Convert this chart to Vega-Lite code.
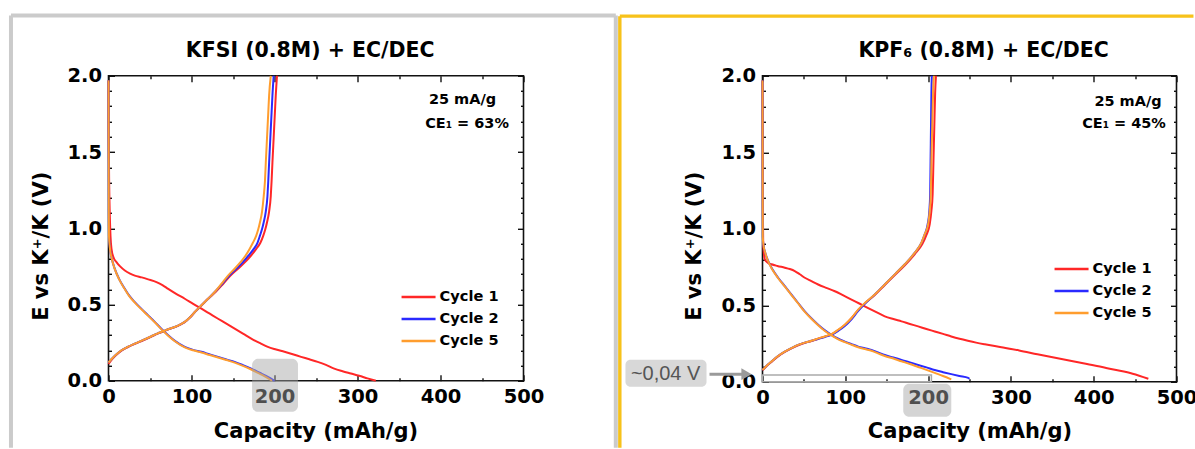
{
  "$schema": "https://vega.github.io/schema/vega-lite/v6.json",
  "padding": {"left": 7.5, "top": 11.8, "right": 0, "bottom": 0},
  "autosize": {"type": "pad"},
  "background": "white",
  "spacing": 239,
  "bounds": "flush",
  "resolve": {"scale": {"color": "independent"}},
  "datasets": {
    "one": [{}],
    "kfsi": [
      {"c":"Cycle 1","b":"d","q":0,"e":1.97},{"c":"Cycle 1","b":"d","q":0.3,"e":1.6},{"c":"Cycle 1","b":"d","q":0.8,"e":1.3},{"c":"Cycle 1","b":"d","q":1.5,"e":1.1},{"c":"Cycle 1","b":"d","q":2.4,"e":0.95},{"c":"Cycle 1","b":"d","q":3.6,"e":0.865},{"c":"Cycle 1","b":"d","q":6,"e":0.81},{"c":"Cycle 1","b":"d","q":9.6,"e":0.778},{"c":"Cycle 1","b":"d","q":14,"e":0.75},{"c":"Cycle 1","b":"d","q":19.7,"e":0.723},{"c":"Cycle 1","b":"d","q":26,"e":0.703},{"c":"Cycle 1","b":"d","q":31.7,"e":0.69},{"c":"Cycle 1","b":"d","q":40,"e":0.678},{"c":"Cycle 1","b":"d","q":47.8,"e":0.665},{"c":"Cycle 1","b":"d","q":57.8,"e":0.647},{"c":"Cycle 1","b":"d","q":65,"e":0.628},{"c":"Cycle 1","b":"d","q":71.9,"e":0.603},{"c":"Cycle 1","b":"d","q":81,"e":0.572},{"c":"Cycle 1","b":"d","q":91.9,"e":0.538},{"c":"Cycle 1","b":"d","q":102,"e":0.505},{"c":"Cycle 1","b":"d","q":112,"e":0.473},{"c":"Cycle 1","b":"d","q":122,"e":0.44},{"c":"Cycle 1","b":"d","q":132,"e":0.407},{"c":"Cycle 1","b":"d","q":142,"e":0.375},{"c":"Cycle 1","b":"d","q":152,"e":0.342},{"c":"Cycle 1","b":"d","q":162,"e":0.31},{"c":"Cycle 1","b":"d","q":172,"e":0.277},{"c":"Cycle 1","b":"d","q":182,"e":0.248},{"c":"Cycle 1","b":"d","q":192,"e":0.222},{"c":"Cycle 1","b":"d","q":202,"e":0.205},{"c":"Cycle 1","b":"d","q":212,"e":0.19},{"c":"Cycle 1","b":"d","q":222,"e":0.174},{"c":"Cycle 1","b":"d","q":232,"e":0.157},{"c":"Cycle 1","b":"d","q":242,"e":0.141},{"c":"Cycle 1","b":"d","q":252,"e":0.124},{"c":"Cycle 1","b":"d","q":262,"e":0.104},{"c":"Cycle 1","b":"d","q":272,"e":0.08},{"c":"Cycle 1","b":"d","q":282,"e":0.063},{"c":"Cycle 1","b":"d","q":292,"e":0.048},{"c":"Cycle 1","b":"d","q":302,"e":0.033},{"c":"Cycle 1","b":"d","q":312,"e":0.016},{"c":"Cycle 1","b":"d","q":322,"e":0.0},
      {"c":"Cycle 1","b":"c","q":0,"e":0.11},{"c":"Cycle 1","b":"c","q":5,"e":0.145},{"c":"Cycle 1","b":"c","q":10,"e":0.172},{"c":"Cycle 1","b":"c","q":15.7,"e":0.198},{"c":"Cycle 1","b":"c","q":23,"e":0.22},{"c":"Cycle 1","b":"c","q":31.7,"e":0.242},{"c":"Cycle 1","b":"c","q":42,"e":0.266},{"c":"Cycle 1","b":"c","q":51.8,"e":0.29},{"c":"Cycle 1","b":"c","q":58,"e":0.306},{"c":"Cycle 1","b":"c","q":65.9,"e":0.323},{"c":"Cycle 1","b":"c","q":72,"e":0.337},{"c":"Cycle 1","b":"c","q":79.9,"e":0.352},{"c":"Cycle 1","b":"c","q":86,"e":0.367},{"c":"Cycle 1","b":"c","q":91.9,"e":0.385},{"c":"Cycle 1","b":"c","q":98,"e":0.414},{"c":"Cycle 1","b":"c","q":104,"e":0.45},{"c":"Cycle 1","b":"c","q":112,"e":0.494},{"c":"Cycle 1","b":"c","q":120,"e":0.538},{"c":"Cycle 1","b":"c","q":129,"e":0.582},{"c":"Cycle 1","b":"c","q":138,"e":0.635},{"c":"Cycle 1","b":"c","q":147,"e":0.69},{"c":"Cycle 1","b":"c","q":156,"e":0.735},{"c":"Cycle 1","b":"c","q":164.5,"e":0.778},{"c":"Cycle 1","b":"c","q":171.5,"e":0.82},{"c":"Cycle 1","b":"c","q":178,"e":0.865},{"c":"Cycle 1","b":"c","q":183,"e":0.905},{"c":"Cycle 1","b":"c","q":186.5,"e":0.952},{"c":"Cycle 1","b":"c","q":189,"e":0.995},{"c":"Cycle 1","b":"c","q":191,"e":1.04},{"c":"Cycle 1","b":"c","q":193.5,"e":1.11},{"c":"Cycle 1","b":"c","q":195.5,"e":1.21},{"c":"Cycle 1","b":"c","q":196.5,"e":1.31},{"c":"Cycle 1","b":"c","q":197.5,"e":1.43},{"c":"Cycle 1","b":"c","q":198.5,"e":1.54},{"c":"Cycle 1","b":"c","q":199.5,"e":1.65},{"c":"Cycle 1","b":"c","q":200.5,"e":1.76},{"c":"Cycle 1","b":"c","q":201.5,"e":1.87},{"c":"Cycle 1","b":"c","q":203,"e":2.0},
      {"c":"Cycle 2","b":"d","q":0,"e":1.97},{"c":"Cycle 2","b":"d","q":0.2,"e":1.6},{"c":"Cycle 2","b":"d","q":0.3,"e":1.3},{"c":"Cycle 2","b":"d","q":0.4,"e":1.1},{"c":"Cycle 2","b":"d","q":0.6,"e":0.95},{"c":"Cycle 2","b":"d","q":1.5,"e":0.88},{"c":"Cycle 2","b":"d","q":4,"e":0.8},{"c":"Cycle 2","b":"d","q":7.6,"e":0.734},{"c":"Cycle 2","b":"d","q":13,"e":0.665},{"c":"Cycle 2","b":"d","q":19.7,"e":0.603},{"c":"Cycle 2","b":"d","q":25,"e":0.558},{"c":"Cycle 2","b":"d","q":31.7,"e":0.516},{"c":"Cycle 2","b":"d","q":40,"e":0.47},{"c":"Cycle 2","b":"d","q":47.8,"e":0.429},{"c":"Cycle 2","b":"d","q":56,"e":0.385},{"c":"Cycle 2","b":"d","q":63.9,"e":0.34},{"c":"Cycle 2","b":"d","q":71.9,"e":0.299},{"c":"Cycle 2","b":"d","q":80,"e":0.262},{"c":"Cycle 2","b":"d","q":91.9,"e":0.222},{"c":"Cycle 2","b":"d","q":102,"e":0.203},{"c":"Cycle 2","b":"d","q":112,"e":0.19},{"c":"Cycle 2","b":"d","q":122,"e":0.173},{"c":"Cycle 2","b":"d","q":132,"e":0.157},{"c":"Cycle 2","b":"d","q":142,"e":0.14},{"c":"Cycle 2","b":"d","q":152,"e":0.124},{"c":"Cycle 2","b":"d","q":162,"e":0.103},{"c":"Cycle 2","b":"d","q":172,"e":0.08},{"c":"Cycle 2","b":"d","q":182,"e":0.053},{"c":"Cycle 2","b":"d","q":192,"e":0.026},{"c":"Cycle 2","b":"d","q":200,"e":0.0},
      {"c":"Cycle 2","b":"c","q":0,"e":0.12},{"c":"Cycle 2","b":"c","q":5,"e":0.15},{"c":"Cycle 2","b":"c","q":10,"e":0.175},{"c":"Cycle 2","b":"c","q":15.7,"e":0.2},{"c":"Cycle 2","b":"c","q":23,"e":0.222},{"c":"Cycle 2","b":"c","q":31.7,"e":0.244},{"c":"Cycle 2","b":"c","q":42,"e":0.268},{"c":"Cycle 2","b":"c","q":51.8,"e":0.292},{"c":"Cycle 2","b":"c","q":58,"e":0.308},{"c":"Cycle 2","b":"c","q":65.9,"e":0.325},{"c":"Cycle 2","b":"c","q":72,"e":0.338},{"c":"Cycle 2","b":"c","q":79.9,"e":0.353},{"c":"Cycle 2","b":"c","q":86,"e":0.368},{"c":"Cycle 2","b":"c","q":91.9,"e":0.386},{"c":"Cycle 2","b":"c","q":98,"e":0.415},{"c":"Cycle 2","b":"c","q":104,"e":0.451},{"c":"Cycle 2","b":"c","q":112,"e":0.495},{"c":"Cycle 2","b":"c","q":120,"e":0.538},{"c":"Cycle 2","b":"c","q":128,"e":0.582},{"c":"Cycle 2","b":"c","q":137,"e":0.635},{"c":"Cycle 2","b":"c","q":145.5,"e":0.69},{"c":"Cycle 2","b":"c","q":154,"e":0.735},{"c":"Cycle 2","b":"c","q":162,"e":0.778},{"c":"Cycle 2","b":"c","q":168.5,"e":0.82},{"c":"Cycle 2","b":"c","q":175,"e":0.865},{"c":"Cycle 2","b":"c","q":179.5,"e":0.905},{"c":"Cycle 2","b":"c","q":182.5,"e":0.952},{"c":"Cycle 2","b":"c","q":185,"e":0.995},{"c":"Cycle 2","b":"c","q":187,"e":1.04},{"c":"Cycle 2","b":"c","q":189.5,"e":1.11},{"c":"Cycle 2","b":"c","q":191.5,"e":1.21},{"c":"Cycle 2","b":"c","q":192.5,"e":1.31},{"c":"Cycle 2","b":"c","q":193.5,"e":1.43},{"c":"Cycle 2","b":"c","q":194.5,"e":1.54},{"c":"Cycle 2","b":"c","q":195.5,"e":1.65},{"c":"Cycle 2","b":"c","q":196.5,"e":1.76},{"c":"Cycle 2","b":"c","q":197.5,"e":1.87},{"c":"Cycle 2","b":"c","q":199,"e":2.0},
      {"c":"Cycle 5","b":"d","q":0,"e":1.97},{"c":"Cycle 5","b":"d","q":0.2,"e":1.6},{"c":"Cycle 5","b":"d","q":0.3,"e":1.3},{"c":"Cycle 5","b":"d","q":0.4,"e":1.1},{"c":"Cycle 5","b":"d","q":0.6,"e":0.95},{"c":"Cycle 5","b":"d","q":1.5,"e":0.88},{"c":"Cycle 5","b":"d","q":4,"e":0.8},{"c":"Cycle 5","b":"d","q":7.6,"e":0.732},{"c":"Cycle 5","b":"d","q":13,"e":0.663},{"c":"Cycle 5","b":"d","q":19.7,"e":0.6},{"c":"Cycle 5","b":"d","q":25,"e":0.555},{"c":"Cycle 5","b":"d","q":31.7,"e":0.513},{"c":"Cycle 5","b":"d","q":40,"e":0.467},{"c":"Cycle 5","b":"d","q":47.8,"e":0.426},{"c":"Cycle 5","b":"d","q":56,"e":0.382},{"c":"Cycle 5","b":"d","q":63.9,"e":0.337},{"c":"Cycle 5","b":"d","q":71.9,"e":0.296},{"c":"Cycle 5","b":"d","q":80,"e":0.259},{"c":"Cycle 5","b":"d","q":91.9,"e":0.219},{"c":"Cycle 5","b":"d","q":102,"e":0.2},{"c":"Cycle 5","b":"d","q":112,"e":0.186},{"c":"Cycle 5","b":"d","q":122,"e":0.169},{"c":"Cycle 5","b":"d","q":132,"e":0.153},{"c":"Cycle 5","b":"d","q":142,"e":0.136},{"c":"Cycle 5","b":"d","q":152,"e":0.119},{"c":"Cycle 5","b":"d","q":162,"e":0.098},{"c":"Cycle 5","b":"d","q":172,"e":0.074},{"c":"Cycle 5","b":"d","q":182,"e":0.047},{"c":"Cycle 5","b":"d","q":192,"e":0.018},{"c":"Cycle 5","b":"d","q":197,"e":0.0},
      {"c":"Cycle 5","b":"c","q":0,"e":0.12},{"c":"Cycle 5","b":"c","q":5,"e":0.15},{"c":"Cycle 5","b":"c","q":10,"e":0.175},{"c":"Cycle 5","b":"c","q":15.7,"e":0.2},{"c":"Cycle 5","b":"c","q":23,"e":0.222},{"c":"Cycle 5","b":"c","q":31.7,"e":0.244},{"c":"Cycle 5","b":"c","q":42,"e":0.268},{"c":"Cycle 5","b":"c","q":51.8,"e":0.292},{"c":"Cycle 5","b":"c","q":58,"e":0.308},{"c":"Cycle 5","b":"c","q":65.9,"e":0.325},{"c":"Cycle 5","b":"c","q":72,"e":0.338},{"c":"Cycle 5","b":"c","q":79.9,"e":0.353},{"c":"Cycle 5","b":"c","q":86,"e":0.368},{"c":"Cycle 5","b":"c","q":91.9,"e":0.386},{"c":"Cycle 5","b":"c","q":98,"e":0.415},{"c":"Cycle 5","b":"c","q":104,"e":0.451},{"c":"Cycle 5","b":"c","q":112,"e":0.495},{"c":"Cycle 5","b":"c","q":120,"e":0.538},{"c":"Cycle 5","b":"c","q":128,"e":0.582},{"c":"Cycle 5","b":"c","q":136,"e":0.635},{"c":"Cycle 5","b":"c","q":144,"e":0.69},{"c":"Cycle 5","b":"c","q":152,"e":0.735},{"c":"Cycle 5","b":"c","q":159,"e":0.778},{"c":"Cycle 5","b":"c","q":165,"e":0.82},{"c":"Cycle 5","b":"c","q":170,"e":0.865},{"c":"Cycle 5","b":"c","q":174,"e":0.905},{"c":"Cycle 5","b":"c","q":178,"e":0.952},{"c":"Cycle 5","b":"c","q":180.5,"e":0.995},{"c":"Cycle 5","b":"c","q":182.5,"e":1.04},{"c":"Cycle 5","b":"c","q":185,"e":1.11},{"c":"Cycle 5","b":"c","q":187,"e":1.21},{"c":"Cycle 5","b":"c","q":188.5,"e":1.31},{"c":"Cycle 5","b":"c","q":189.5,"e":1.43},{"c":"Cycle 5","b":"c","q":190.5,"e":1.54},{"c":"Cycle 5","b":"c","q":191.5,"e":1.65},{"c":"Cycle 5","b":"c","q":192.5,"e":1.76},{"c":"Cycle 5","b":"c","q":193.5,"e":1.87},{"c":"Cycle 5","b":"c","q":195.5,"e":2.0}
    ],
    "kpf6": [
      {"c":"Cycle 1","b":"d","q":0,"e":1.97},{"c":"Cycle 1","b":"d","q":0.3,"e":1.5},{"c":"Cycle 1","b":"d","q":0.5,"e":1.1},{"c":"Cycle 1","b":"d","q":0.8,"e":0.92},{"c":"Cycle 1","b":"d","q":1.5,"e":0.85},{"c":"Cycle 1","b":"d","q":2.8,"e":0.8},{"c":"Cycle 1","b":"d","q":6,"e":0.78},{"c":"Cycle 1","b":"d","q":10.9,"e":0.768},{"c":"Cycle 1","b":"d","q":18,"e":0.757},{"c":"Cycle 1","b":"d","q":26.9,"e":0.746},{"c":"Cycle 1","b":"d","q":33,"e":0.737},{"c":"Cycle 1","b":"d","q":39,"e":0.724},{"c":"Cycle 1","b":"d","q":45,"e":0.703},{"c":"Cycle 1","b":"d","q":51.1,"e":0.68},{"c":"Cycle 1","b":"d","q":59,"e":0.658},{"c":"Cycle 1","b":"d","q":67.2,"e":0.636},{"c":"Cycle 1","b":"d","q":77,"e":0.614},{"c":"Cycle 1","b":"d","q":87.4,"e":0.592},{"c":"Cycle 1","b":"d","q":97,"e":0.566},{"c":"Cycle 1","b":"d","q":107.5,"e":0.537},{"c":"Cycle 1","b":"d","q":117.5,"e":0.51},{"c":"Cycle 1","b":"d","q":127.6,"e":0.482},{"c":"Cycle 1","b":"d","q":137.5,"e":0.455},{"c":"Cycle 1","b":"d","q":147.7,"e":0.428},{"c":"Cycle 1","b":"d","q":158,"e":0.41},{"c":"Cycle 1","b":"d","q":167.9,"e":0.395},{"c":"Cycle 1","b":"d","q":178,"e":0.378},{"c":"Cycle 1","b":"d","q":188,"e":0.362},{"c":"Cycle 1","b":"d","q":198,"e":0.345},{"c":"Cycle 1","b":"d","q":208,"e":0.329},{"c":"Cycle 1","b":"d","q":218,"e":0.313},{"c":"Cycle 1","b":"d","q":228,"e":0.296},{"c":"Cycle 1","b":"d","q":238,"e":0.281},{"c":"Cycle 1","b":"d","q":248,"e":0.268},{"c":"Cycle 1","b":"d","q":258,"e":0.256},{"c":"Cycle 1","b":"d","q":268.5,"e":0.245},{"c":"Cycle 1","b":"d","q":288.6,"e":0.226},{"c":"Cycle 1","b":"d","q":310,"e":0.205},{"c":"Cycle 1","b":"d","q":332,"e":0.18},{"c":"Cycle 1","b":"d","q":355,"e":0.155},{"c":"Cycle 1","b":"d","q":378,"e":0.131},{"c":"Cycle 1","b":"d","q":401,"e":0.107},{"c":"Cycle 1","b":"d","q":424,"e":0.08},{"c":"Cycle 1","b":"d","q":447,"e":0.053},{"c":"Cycle 1","b":"d","q":466,"e":0.02},
      {"c":"Cycle 1","b":"c","q":0,"e":0.075},{"c":"Cycle 1","b":"c","q":5,"e":0.103},{"c":"Cycle 1","b":"c","q":10.9,"e":0.13},{"c":"Cycle 1","b":"c","q":18,"e":0.163},{"c":"Cycle 1","b":"c","q":26.9,"e":0.195},{"c":"Cycle 1","b":"c","q":35,"e":0.218},{"c":"Cycle 1","b":"c","q":43.1,"e":0.239},{"c":"Cycle 1","b":"c","q":51,"e":0.254},{"c":"Cycle 1","b":"c","q":59.2,"e":0.267},{"c":"Cycle 1","b":"c","q":67,"e":0.281},{"c":"Cycle 1","b":"c","q":75.2,"e":0.295},{"c":"Cycle 1","b":"c","q":83.3,"e":0.31},{"c":"Cycle 1","b":"c","q":91.4,"e":0.338},{"c":"Cycle 1","b":"c","q":99.4,"e":0.372},{"c":"Cycle 1","b":"c","q":107.5,"e":0.416},{"c":"Cycle 1","b":"c","q":115.6,"e":0.47},{"c":"Cycle 1","b":"c","q":123.6,"e":0.513},{"c":"Cycle 1","b":"c","q":135.6,"e":0.568},{"c":"Cycle 1","b":"c","q":147.7,"e":0.633},{"c":"Cycle 1","b":"c","q":159.8,"e":0.698},{"c":"Cycle 1","b":"c","q":171.9,"e":0.762},{"c":"Cycle 1","b":"c","q":184,"e":0.835},{"c":"Cycle 1","b":"c","q":193,"e":0.9},{"c":"Cycle 1","b":"c","q":198,"e":0.96},{"c":"Cycle 1","b":"c","q":202,"e":1.03},{"c":"Cycle 1","b":"c","q":204,"e":1.118},{"c":"Cycle 1","b":"c","q":205.5,"e":1.228},{"c":"Cycle 1","b":"c","q":206.5,"e":1.447},{"c":"Cycle 1","b":"c","q":207.5,"e":1.667},{"c":"Cycle 1","b":"c","q":208.5,"e":1.886},{"c":"Cycle 1","b":"c","q":209.5,"e":2.0},
      {"c":"Cycle 2","b":"d","q":0,"e":1.97},{"c":"Cycle 2","b":"d","q":0.2,"e":1.5},{"c":"Cycle 2","b":"d","q":0.3,"e":1.1},{"c":"Cycle 2","b":"d","q":0.4,"e":0.95},{"c":"Cycle 2","b":"d","q":1,"e":0.9},{"c":"Cycle 2","b":"d","q":3.5,"e":0.84},{"c":"Cycle 2","b":"d","q":6.8,"e":0.79},{"c":"Cycle 2","b":"d","q":12,"e":0.735},{"c":"Cycle 2","b":"d","q":18.9,"e":0.68},{"c":"Cycle 2","b":"d","q":27,"e":0.625},{"c":"Cycle 2","b":"d","q":35,"e":0.57},{"c":"Cycle 2","b":"d","q":43,"e":0.515},{"c":"Cycle 2","b":"d","q":51.1,"e":0.46},{"c":"Cycle 2","b":"d","q":59,"e":0.415},{"c":"Cycle 2","b":"d","q":67.2,"e":0.373},{"c":"Cycle 2","b":"d","q":75,"e":0.338},{"c":"Cycle 2","b":"d","q":83.3,"e":0.307},{"c":"Cycle 2","b":"d","q":91,"e":0.283},{"c":"Cycle 2","b":"d","q":99.4,"e":0.263},{"c":"Cycle 2","b":"d","q":107.5,"e":0.246},{"c":"Cycle 2","b":"d","q":115.6,"e":0.23},{"c":"Cycle 2","b":"d","q":123.5,"e":0.219},{"c":"Cycle 2","b":"d","q":131.6,"e":0.208},{"c":"Cycle 2","b":"d","q":139.5,"e":0.192},{"c":"Cycle 2","b":"d","q":147.7,"e":0.175},{"c":"Cycle 2","b":"d","q":158,"e":0.159},{"c":"Cycle 2","b":"d","q":167.9,"e":0.143},{"c":"Cycle 2","b":"d","q":178,"e":0.127},{"c":"Cycle 2","b":"d","q":188,"e":0.11},{"c":"Cycle 2","b":"d","q":198,"e":0.094},{"c":"Cycle 2","b":"d","q":208,"e":0.077},{"c":"Cycle 2","b":"d","q":218,"e":0.063},{"c":"Cycle 2","b":"d","q":228,"e":0.05},{"c":"Cycle 2","b":"d","q":238,"e":0.038},{"c":"Cycle 2","b":"d","q":248.4,"e":0.026},{"c":"Cycle 2","b":"d","q":250,"e":0.02},
      {"c":"Cycle 2","b":"c","q":0,"e":0.077},{"c":"Cycle 2","b":"c","q":5,"e":0.105},{"c":"Cycle 2","b":"c","q":10.9,"e":0.132},{"c":"Cycle 2","b":"c","q":18,"e":0.165},{"c":"Cycle 2","b":"c","q":26.9,"e":0.197},{"c":"Cycle 2","b":"c","q":35,"e":0.22},{"c":"Cycle 2","b":"c","q":43.1,"e":0.241},{"c":"Cycle 2","b":"c","q":51,"e":0.256},{"c":"Cycle 2","b":"c","q":59.2,"e":0.268},{"c":"Cycle 2","b":"c","q":67,"e":0.28},{"c":"Cycle 2","b":"c","q":75.2,"e":0.293},{"c":"Cycle 2","b":"c","q":83.3,"e":0.307},{"c":"Cycle 2","b":"c","q":91.4,"e":0.333},{"c":"Cycle 2","b":"c","q":99.4,"e":0.364},{"c":"Cycle 2","b":"c","q":107.5,"e":0.408},{"c":"Cycle 2","b":"c","q":115.6,"e":0.463},{"c":"Cycle 2","b":"c","q":123.6,"e":0.51},{"c":"Cycle 2","b":"c","q":135.6,"e":0.57},{"c":"Cycle 2","b":"c","q":147.7,"e":0.636},{"c":"Cycle 2","b":"c","q":159.8,"e":0.702},{"c":"Cycle 2","b":"c","q":171.9,"e":0.768},{"c":"Cycle 2","b":"c","q":184,"e":0.844},{"c":"Cycle 2","b":"c","q":192,"e":0.91},{"c":"Cycle 2","b":"c","q":196,"e":0.965},{"c":"Cycle 2","b":"c","q":199.5,"e":1.03},{"c":"Cycle 2","b":"c","q":201.5,"e":1.118},{"c":"Cycle 2","b":"c","q":202.5,"e":1.228},{"c":"Cycle 2","b":"c","q":203,"e":1.447},{"c":"Cycle 2","b":"c","q":203.5,"e":1.667},{"c":"Cycle 2","b":"c","q":204,"e":1.886},{"c":"Cycle 2","b":"c","q":204.5,"e":2.0},
      {"c":"Cycle 5","b":"d","q":0,"e":1.97},{"c":"Cycle 5","b":"d","q":0.2,"e":1.5},{"c":"Cycle 5","b":"d","q":0.3,"e":1.1},{"c":"Cycle 5","b":"d","q":0.4,"e":0.95},{"c":"Cycle 5","b":"d","q":1,"e":0.9},{"c":"Cycle 5","b":"d","q":3.5,"e":0.84},{"c":"Cycle 5","b":"d","q":6.8,"e":0.788},{"c":"Cycle 5","b":"d","q":12,"e":0.732},{"c":"Cycle 5","b":"d","q":18.9,"e":0.677},{"c":"Cycle 5","b":"d","q":27,"e":0.622},{"c":"Cycle 5","b":"d","q":35,"e":0.567},{"c":"Cycle 5","b":"d","q":43,"e":0.512},{"c":"Cycle 5","b":"d","q":51.1,"e":0.457},{"c":"Cycle 5","b":"d","q":59,"e":0.412},{"c":"Cycle 5","b":"d","q":67.2,"e":0.37},{"c":"Cycle 5","b":"d","q":75,"e":0.334},{"c":"Cycle 5","b":"d","q":83.3,"e":0.303},{"c":"Cycle 5","b":"d","q":91,"e":0.279},{"c":"Cycle 5","b":"d","q":99.4,"e":0.259},{"c":"Cycle 5","b":"d","q":107.5,"e":0.242},{"c":"Cycle 5","b":"d","q":115.6,"e":0.226},{"c":"Cycle 5","b":"d","q":123.5,"e":0.214},{"c":"Cycle 5","b":"d","q":131.6,"e":0.203},{"c":"Cycle 5","b":"d","q":139.5,"e":0.186},{"c":"Cycle 5","b":"d","q":147.7,"e":0.169},{"c":"Cycle 5","b":"d","q":158,"e":0.152},{"c":"Cycle 5","b":"d","q":167.9,"e":0.134},{"c":"Cycle 5","b":"d","q":178,"e":0.116},{"c":"Cycle 5","b":"d","q":188,"e":0.097},{"c":"Cycle 5","b":"d","q":198,"e":0.078},{"c":"Cycle 5","b":"d","q":208,"e":0.058},{"c":"Cycle 5","b":"d","q":218,"e":0.038},{"c":"Cycle 5","b":"d","q":228,"e":0.016},
      {"c":"Cycle 5","b":"c","q":0,"e":0.077},{"c":"Cycle 5","b":"c","q":5,"e":0.105},{"c":"Cycle 5","b":"c","q":10.9,"e":0.132},{"c":"Cycle 5","b":"c","q":18,"e":0.165},{"c":"Cycle 5","b":"c","q":26.9,"e":0.197},{"c":"Cycle 5","b":"c","q":35,"e":0.22},{"c":"Cycle 5","b":"c","q":43.1,"e":0.241},{"c":"Cycle 5","b":"c","q":51,"e":0.256},{"c":"Cycle 5","b":"c","q":59.2,"e":0.268},{"c":"Cycle 5","b":"c","q":67,"e":0.282},{"c":"Cycle 5","b":"c","q":75.2,"e":0.296},{"c":"Cycle 5","b":"c","q":83.3,"e":0.311},{"c":"Cycle 5","b":"c","q":91.4,"e":0.34},{"c":"Cycle 5","b":"c","q":99.4,"e":0.373},{"c":"Cycle 5","b":"c","q":107.5,"e":0.417},{"c":"Cycle 5","b":"c","q":115.6,"e":0.472},{"c":"Cycle 5","b":"c","q":123.6,"e":0.515},{"c":"Cycle 5","b":"c","q":135.6,"e":0.57},{"c":"Cycle 5","b":"c","q":147.7,"e":0.636},{"c":"Cycle 5","b":"c","q":159.8,"e":0.702},{"c":"Cycle 5","b":"c","q":171.9,"e":0.768},{"c":"Cycle 5","b":"c","q":184,"e":0.844},{"c":"Cycle 5","b":"c","q":192,"e":0.91},{"c":"Cycle 5","b":"c","q":196,"e":0.965},{"c":"Cycle 5","b":"c","q":200,"e":1.03},{"c":"Cycle 5","b":"c","q":202,"e":1.118},{"c":"Cycle 5","b":"c","q":203.3,"e":1.228},{"c":"Cycle 5","b":"c","q":204,"e":1.447},{"c":"Cycle 5","b":"c","q":205,"e":1.667},{"c":"Cycle 5","b":"c","q":206,"e":1.886},{"c":"Cycle 5","b":"c","q":207,"e":2.0}
    ]
  },
  "hconcat": [
    {
      "width": 415,
      "height": 305,
      "resolve": {"axis": {"x": "independent", "y": "independent"}},
      "layer": [
        {
          "data": {"name": "one"},
          "mark": {"type": "rule", "stroke": "#cbcbcb", "strokeWidth": 4},
          "encoding": {
            "x": {"datum": -117.5, "type": "quantitative", "scale": {"domain": [0, 500], "nice": false, "zero": false},
                  "axis": {"orient": "bottom", "values": [50, 150, 250, 350, 450], "tickSize": -3, "labels": false, "title": null}},
            "y": {"datum": 2.395, "type": "quantitative", "scale": {"domain": [0, 2], "nice": false, "zero": false},
                  "axis": {"orient": "left", "values": [0.1, 0.2, 0.3, 0.4, 0.6, 0.7, 0.8, 0.9, 1.1, 1.2, 1.3, 1.4, 1.6, 1.7, 1.8, 1.9], "tickSize": -3, "labels": false, "title": null}},
            "y2": {"datum": -0.439}
          }
        },
        {
          "data": {"name": "one"},
          "mark": {"type": "rule", "stroke": "#cbcbcb", "strokeWidth": 4},
          "encoding": {
            "x": {"datum": -117.5, "type": "quantitative", "scale": {"domain": [0, 500], "nice": false, "zero": false},
                  "axis": {"orient": "top", "values": [0, 100, 200, 300, 400, 500], "tickSize": -6, "labels": false, "title": null}},
            "x2": {"datum": 611.2},
            "y": {"datum": 2.395, "type": "quantitative", "scale": {"domain": [0, 2], "nice": false, "zero": false},
                  "axis": {"orient": "right", "values": [0, 0.5, 1, 1.5, 2], "tickSize": -6, "labels": false, "title": null}}
          }
        },
        {
          "data": {"name": "one"},
          "mark": {"type": "rule", "stroke": "#cbcbcb", "strokeWidth": 4},
          "encoding": {
            "x": {"datum": 611.2, "type": "quantitative", "scale": {"domain": [0, 500], "nice": false, "zero": false},
                  "axis": {"orient": "top", "values": [50, 150, 250, 350, 450], "tickSize": -3, "labels": false, "title": null}},
            "y": {"datum": 2.395, "type": "quantitative", "scale": {"domain": [0, 2], "nice": false, "zero": false},
                  "axis": {"orient": "right", "values": [0.1, 0.2, 0.3, 0.4, 0.6, 0.7, 0.8, 0.9, 1.1, 1.2, 1.3, 1.4, 1.6, 1.7, 1.8, 1.9], "tickSize": -3, "labels": false, "title": null}},
            "y2": {"datum": -0.439}
          }
        },
        {
          "data": {"name": "kfsi"},
          "mark": {"type": "line", "strokeWidth": 2, "interpolate": "monotone"},
          "encoding": {
            "x": {"field": "q", "type": "quantitative", "scale": {"domain": [0, 500], "nice": false, "zero": false},
                  "axis": {"orient": "bottom", "values": [0, 100, 200, 300, 400, 500], "tickSize": -6, "labelFontSize": 19.5, "labelFontWeight": "bold", "labelPadding": 13, "labelFlush": false, "labelOverlap": false,
                           "title": "Capacity (mAh/g)", "titleFontSize": 21, "titleFontWeight": "bold", "titleX": 207, "titleY": 51, "titleBaseline": "middle", "titleAlign": "center"}},
            "y": {"field": "e", "type": "quantitative", "scale": {"domain": [0, 2], "nice": false, "zero": false},
                  "axis": {"orient": "left", "values": [0, 0.5, 1, 1.5, 2], "format": ".1f", "tickSize": -6, "labelFontSize": 19.5, "labelFontWeight": "bold", "labelPadding": 13, "labelFlush": false, "labelOverlap": false,
                           "title": "E vs K⁺/K (V)", "titleFontSize": 21, "titleFontWeight": "bold", "titleX": -67, "titleY": 170, "titleAngle": -90, "titleBaseline": "middle", "titleAlign": "center"}},
            "color": {"field": "c", "type": "nominal",
                      "scale": {"domain": ["Cycle 1", "Cycle 2", "Cycle 5"], "range": ["#ff2727", "#2a2aff", "#ff9d2e"]},
                      "legend": {"orient": "none", "legendX": 302.75, "legendY": 214, "title": null, "symbolType": "M-4,0H4", "symbolSize": 72.25, "symbolStrokeWidth": 2.5,
                                 "labelFontSize": 14.6, "labelFontWeight": "bold", "labelColor": "#000", "labelOffset": 13.75, "rowPadding": 7, "padding": 0}},
            "detail": {"field": "b"}
          }
        },
        {
          "data": {"name": "one"},
          "mark": {"type": "text", "fontSize": 14.5, "fontWeight": "bold", "align": "center", "baseline": "middle", "color": "#000"},
          "encoding": {
            "x": {"datum": 426.5, "type": "quantitative", "scale": {"domain": [0, 500], "nice": false, "zero": false}, "axis": null},
            "y": {"datum": 1.84, "type": "quantitative", "scale": {"domain": [0, 2], "nice": false, "zero": false}, "axis": null},
            "text": {"value": "25 mA/g"}
          }
        },
        {
          "data": {"name": "one"},
          "mark": {"type": "text", "fontSize": 14.5, "fontWeight": "bold", "align": "center", "baseline": "middle", "color": "#000"},
          "encoding": {
            "x": {"datum": 432, "type": "quantitative", "scale": {"domain": [0, 500], "nice": false, "zero": false}, "axis": null},
            "y": {"datum": 1.685, "type": "quantitative", "scale": {"domain": [0, 2], "nice": false, "zero": false}, "axis": null},
            "text": {"value": "CE₁ = 63%"}
          }
        },
        {
          "data": {"name": "one"},
          "mark": {"type": "text", "fontSize": 20.5, "fontWeight": "bold", "align": "center", "baseline": "middle", "color": "#000"},
          "encoding": {
            "x": {"datum": 243, "type": "quantitative", "scale": {"domain": [0, 500], "nice": false, "zero": false}, "axis": null},
            "y": {"datum": 2.163, "type": "quantitative", "scale": {"domain": [0, 2], "nice": false, "zero": false}, "axis": null},
            "text": {"value": "KFSI (0.8M) + EC/DEC"}
          }
        },
        {
          "data": {"name": "one"},
          "mark": {"type": "rect", "color": "#a6a6a6", "opacity": 0.48, "cornerRadius": 6},
          "encoding": {
            "x": {"datum": 173, "type": "quantitative", "scale": {"domain": [0, 500], "nice": false, "zero": false}, "axis": null},
            "x2": {"datum": 228.3},
            "y": {"datum": 0.144, "type": "quantitative", "scale": {"domain": [0, 2], "nice": false, "zero": false}, "axis": null},
            "y2": {"datum": -0.203}
          }
        }
      ]
    },
    {
      "width": 414,
      "height": 306,
      "resolve": {"axis": {"x": "independent", "y": "independent"}},
      "layer": [
        {
          "data": {"name": "one"},
          "mark": {"type": "rule", "stroke": "#f7c21a", "strokeWidth": 3.4},
          "encoding": {
            "x": {"datum": -172.3, "type": "quantitative", "scale": {"domain": [0, 500], "nice": false, "zero": false},
                  "axis": {"orient": "bottom", "values": [50, 150, 250, 350, 450], "tickSize": -3, "labels": false, "title": null}},
            "y": {"datum": 2.39, "type": "quantitative", "scale": {"domain": [0, 2], "nice": false, "zero": false},
                  "axis": {"orient": "left", "values": [0.1, 0.2, 0.3, 0.4, 0.6, 0.7, 0.8, 0.9, 1.1, 1.2, 1.3, 1.4, 1.6, 1.7, 1.8, 1.9], "tickSize": -3, "labels": false, "title": null}},
            "y2": {"datum": -0.431}
          }
        },
        {
          "data": {"name": "one"},
          "mark": {"type": "rule", "stroke": "#f7c21a", "strokeWidth": 3.4},
          "encoding": {
            "x": {"datum": -172.3, "type": "quantitative", "scale": {"domain": [0, 500], "nice": false, "zero": false},
                  "axis": {"orient": "top", "values": [0, 100, 200, 300, 400, 500], "tickSize": -6, "labels": false, "title": null}},
            "x2": {"datum": 520.5},
            "y": {"datum": 2.39, "type": "quantitative", "scale": {"domain": [0, 2], "nice": false, "zero": false},
                  "axis": {"orient": "right", "values": [0, 0.5, 1, 1.5, 2], "tickSize": -6, "labels": false, "title": null}}
          }
        },
        {
          "data": {"name": "one"},
          "mark": {"type": "rect", "filled": false, "stroke": "#aaaaaa", "strokeWidth": 1.5},
          "encoding": {
            "x": {"datum": 0, "type": "quantitative", "scale": {"domain": [0, 500], "nice": false, "zero": false},
                  "axis": {"orient": "top", "values": [50, 150, 250, 350, 450], "tickSize": -3, "labels": false, "title": null}},
            "x2": {"datum": 204},
            "y": {"datum": 0.045, "type": "quantitative", "scale": {"domain": [0, 2], "nice": false, "zero": false},
                  "axis": {"orient": "right", "values": [0.1, 0.2, 0.3, 0.4, 0.6, 0.7, 0.8, 0.9, 1.1, 1.2, 1.3, 1.4, 1.6, 1.7, 1.8, 1.9], "tickSize": -3, "labels": false, "title": null}},
            "y2": {"datum": 0}
          }
        },
        {
          "data": {"name": "kpf6"},
          "mark": {"type": "line", "strokeWidth": 2, "interpolate": "monotone"},
          "encoding": {
            "x": {"field": "q", "type": "quantitative", "scale": {"domain": [0, 500], "nice": false, "zero": false},
                  "axis": {"orient": "bottom", "values": [0, 100, 200, 300, 400, 500], "tickSize": -6, "labelFontSize": 19.5, "labelFontWeight": "bold", "labelPadding": 13, "labelFlush": false, "labelOverlap": false,
                           "title": "Capacity (mAh/g)", "titleFontSize": 21, "titleFontWeight": "bold", "titleX": 207, "titleY": 50, "titleBaseline": "middle", "titleAlign": "center"}},
            "y": {"field": "e", "type": "quantitative", "scale": {"domain": [0, 2], "nice": false, "zero": false},
                  "axis": {"orient": "left", "values": [0, 0.5, 1, 1.5, 2], "format": ".1f", "tickSize": -6, "labelFontSize": 19.5, "labelFontWeight": "bold", "labelPadding": 13, "labelFlush": false, "labelOverlap": false,
                           "title": "E vs K⁺/K (V)", "titleFontSize": 21, "titleFontWeight": "bold", "titleX": -68, "titleY": 170, "titleAngle": -90, "titleBaseline": "middle", "titleAlign": "center"}},
            "color": {"field": "c", "type": "nominal",
                      "scale": {"domain": ["Cycle 1", "Cycle 2", "Cycle 5"], "range": ["#ff2727", "#2a2aff", "#ff9d2e"]},
                      "legend": {"orient": "none", "legendX": 301.75, "legendY": 186, "title": null, "symbolType": "M-4,0H4", "symbolSize": 72.25, "symbolStrokeWidth": 2.5,
                                 "labelFontSize": 14.6, "labelFontWeight": "bold", "labelColor": "#000", "labelOffset": 13.75, "rowPadding": 7, "padding": 0}},
            "detail": {"field": "b"}
          }
        },
        {
          "data": {"name": "one"},
          "mark": {"type": "text", "fontSize": 14.5, "fontWeight": "bold", "align": "center", "baseline": "middle", "color": "#000"},
          "encoding": {
            "x": {"datum": 441.4, "type": "quantitative", "scale": {"domain": [0, 500], "nice": false, "zero": false}, "axis": null},
            "y": {"datum": 1.83, "type": "quantitative", "scale": {"domain": [0, 2], "nice": false, "zero": false}, "axis": null},
            "text": {"value": "25 mA/g"}
          }
        },
        {
          "data": {"name": "one"},
          "mark": {"type": "text", "fontSize": 14.5, "fontWeight": "bold", "align": "center", "baseline": "middle", "color": "#000"},
          "encoding": {
            "x": {"datum": 436.6, "type": "quantitative", "scale": {"domain": [0, 500], "nice": false, "zero": false}, "axis": null},
            "y": {"datum": 1.685, "type": "quantitative", "scale": {"domain": [0, 2], "nice": false, "zero": false}, "axis": null},
            "text": {"value": "CE₁ = 45%"}
          }
        },
        {
          "data": {"name": "one"},
          "mark": {"type": "text", "fontSize": 20.5, "fontWeight": "bold", "align": "center", "baseline": "middle", "color": "#000"},
          "encoding": {
            "x": {"datum": 267, "type": "quantitative", "scale": {"domain": [0, 500], "nice": false, "zero": false}, "axis": null},
            "y": {"datum": 2.163, "type": "quantitative", "scale": {"domain": [0, 2], "nice": false, "zero": false}, "axis": null},
            "text": {"value": "KPF₆ (0.8M) + EC/DEC"}
          }
        },
        {
          "data": {"name": "one"},
          "mark": {"type": "rect", "color": "#a6a6a6", "opacity": 0.48, "cornerRadius": 6},
          "encoding": {
            "x": {"datum": 170, "type": "quantitative", "scale": {"domain": [0, 500], "nice": false, "zero": false}, "axis": null},
            "x2": {"datum": 228},
            "y": {"datum": -0.013, "type": "quantitative", "scale": {"domain": [0, 2], "nice": false, "zero": false}, "axis": null},
            "y2": {"datum": -0.229}
          }
        },
        {
          "data": {"name": "one"},
          "mark": {"type": "rect", "color": "#d8d8d8", "cornerRadius": 5},
          "encoding": {
            "x": {"datum": -165.5, "type": "quantitative", "scale": {"domain": [0, 500], "nice": false, "zero": false}, "axis": null},
            "x2": {"datum": -67.6},
            "y": {"datum": 0.144, "type": "quantitative", "scale": {"domain": [0, 2], "nice": false, "zero": false}, "axis": null},
            "y2": {"datum": -0.033}
          }
        },
        {
          "data": {"name": "one"},
          "mark": {"type": "text", "font": "Liberation Sans", "fontSize": 20, "align": "center", "baseline": "middle", "color": "#555555"},
          "encoding": {
            "x": {"datum": -117, "type": "quantitative", "scale": {"domain": [0, 500], "nice": false, "zero": false}, "axis": null},
            "y": {"datum": 0.048, "type": "quantitative", "scale": {"domain": [0, 2], "nice": false, "zero": false}, "axis": null},
            "text": {"value": "~0,04 V"}
          }
        },
        {
          "data": {"name": "one"},
          "mark": {"type": "rule", "stroke": "#9a9a9a", "strokeWidth": 3},
          "encoding": {
            "x": {"datum": -64, "type": "quantitative", "scale": {"domain": [0, 500], "nice": false, "zero": false}, "axis": null},
            "x2": {"datum": -20},
            "y": {"datum": 0.05, "type": "quantitative", "scale": {"domain": [0, 2], "nice": false, "zero": false}, "axis": null}
          }
        },
        {
          "data": {"name": "one"},
          "mark": {"type": "point", "shape": "triangle-right", "filled": true, "color": "#9a9a9a", "size": 140, "opacity": 1},
          "encoding": {
            "x": {"datum": -19.3, "type": "quantitative", "scale": {"domain": [0, 500], "nice": false, "zero": false}, "axis": null},
            "y": {"datum": 0.05, "type": "quantitative", "scale": {"domain": [0, 2], "nice": false, "zero": false}, "axis": null}
          }
        }
      ]
    }
  ],
  "config": {
    "font": "DejaVu Sans",
    "view": {"stroke": "#111111", "strokeWidth": 1.6},
    "axis": {"tickColor": "#111111", "tickWidth": 1.4, "domain": false, "grid": false, "labelColor": "#000000", "titleColor": "#000000", "labelFont": "DejaVu Sans", "titleFont": "DejaVu Sans"},
    "legend": {"labelFont": "DejaVu Sans"},
    "text": {"font": "DejaVu Sans"}
  }
}
